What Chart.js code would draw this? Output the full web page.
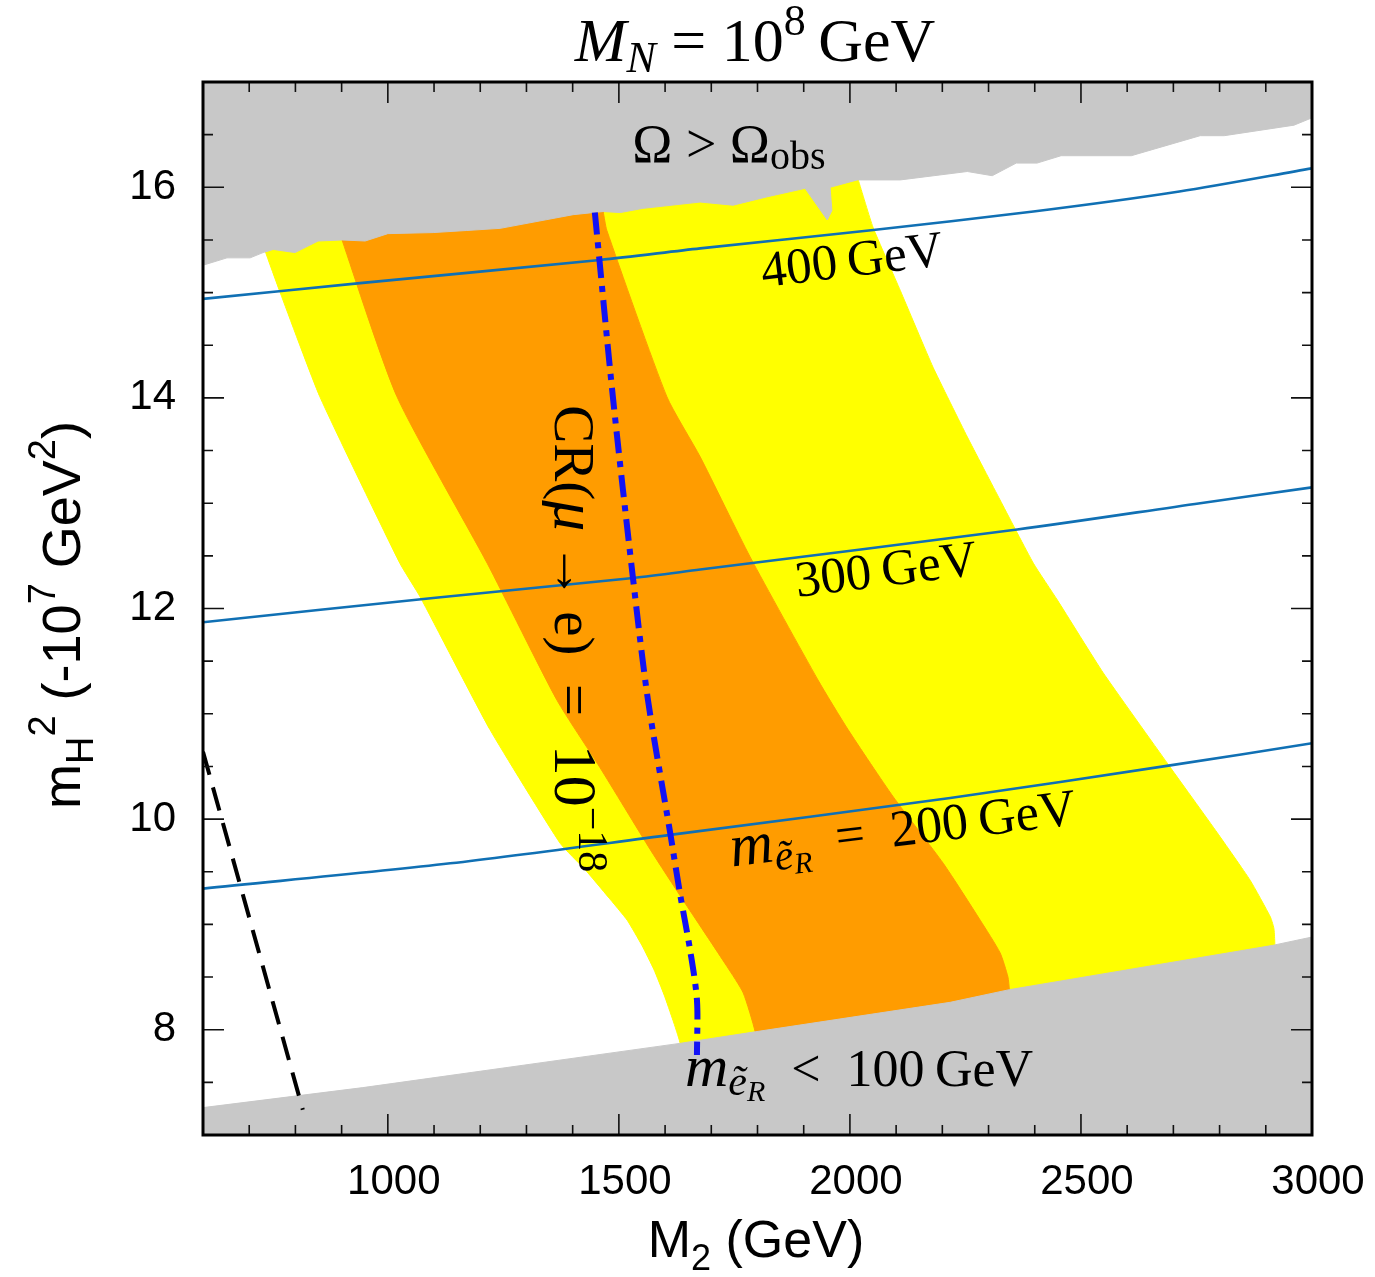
<!DOCTYPE html>
<html>
<head>
<meta charset="utf-8">
<script src="https://cdn.jsdelivr.net/npm/chart.js@4/dist/chart.umd.min.js"></script>
<style>
  html, body { margin: 0; padding: 0; background: #fff; }
  #wrap { width: 1375px; height: 1277px; }
</style>
</head>
<body>
<div id="wrap"><canvas id="chart_mh"></canvas></div>
<script>
// axis ranges (GeV, -10^7 GeV^2)
var m2_min = 600, m2_max = 3000;
var mh_min = 7, mh_max = 17;

// Omega > Omega_obs, lower edge of the excluded region
var omega_m2 = [600, 652, 702, 730, 752, 799, 849, 901, 951, 1000, 1098, 1171, 1243, 1401, 1466, 1503, 1552, 1676, 1747, 1821, 1903, 1951, 1961, 1957, 2016, 2109, 2254, 2308, 2360, 2405, 2457, 2609, 2758, 2810, 2961, 3000];
var omega_mh = [15.26, 15.33, 15.33, 15.38, 15.41, 15.38, 15.49, 15.50, 15.49, 15.56, 15.57, 15.59, 15.61, 15.74, 15.77, 15.76, 15.80, 15.86, 15.83, 15.91, 15.99, 15.69, 15.78, 16.00, 16.07, 16.07, 16.15, 16.11, 16.23, 16.23, 16.30, 16.30, 16.49, 16.49, 16.59, 16.66];

// m_eR < 100 GeV, upper edge
var light_m2 = [600, 946, 1632, 1795, 2217, 2345, 2914, 3000];
var light_mh = [7.26, 7.45, 7.87, 7.98, 8.26, 8.38, 8.80, 8.88];

// yellow band (left edge top->bottom, right edge bottom->top)
var yellow_left_m2 = [721, 734, 767, 853, 1026, 1070, 1221, 1373, 1427, 1477, 1518, 1550, 1576, 1598, 1617, 1632, 1637];
var yellow_left_mh = [15.58, 15.40, 15.00, 14.01, 12.43, 12.11, 10.85, 9.77, 9.52, 9.26, 9.04, 8.80, 8.57, 8.33, 8.09, 7.88, 7.62];
var yellow_right_m2 = [2914, 2918, 2910, 2866, 2795, 2687, 2548, 2449, 2397, 2325, 2254, 2180, 2109, 2050, 2018, 2007];
var yellow_right_mh = [8.66, 8.95, 9.07, 9.42, 9.87, 10.53, 11.39, 12.08, 12.43, 13.03, 13.63, 14.29, 15.02, 15.62, 16.07, 16.21];

// orange band
var orange_left_m2 = [892, 901, 1020, 1215, 1366, 1459, 1568, 1639, 1734, 1769, 1795, 1801];
var orange_left_mh = [15.67, 15.50, 14.01, 12.43, 11.13, 10.49, 9.71, 9.23, 8.60, 8.35, 7.98, 7.76];
var orange_right_m2 = [2347, 2345, 2342, 2325, 2282, 2202, 2094, 1996, 1931, 1784, 1676, 1604, 1474, 1466];
var orange_right_mh = [8.19, 8.38, 8.50, 8.73, 9.04, 9.58, 10.21, 10.85, 11.32, 12.49, 13.44, 14.01, 15.59, 15.77];

// selectron mass contours
var me400_m2 = [600, 940, 1459, 1676, 2041, 2397, 2713, 3000];
var me400_mh = [14.94, 15.09, 15.31, 15.42, 15.59, 15.77, 15.96, 16.18];
var me300_m2 = [600, 1098, 1531, 1676, 2362, 2758, 3000];
var me300_mh = [11.87, 12.10, 12.29, 12.37, 12.75, 13.00, 13.15];
var me200_m2 = [600, 1135, 1611, 2217, 2693, 3000];
var me200_mh = [9.34, 9.58, 9.85, 10.20, 10.51, 10.72];

// CR(mu -> e) = 1e-18
var cr_m2 = [1448, 1487, 1531, 1563, 1611, 1632, 1654, 1669, 1669];
var cr_mh = [15.76, 14.01, 12.27, 11.13, 9.87, 9.30, 8.76, 8.28, 7.76];

// dashed black line
var dash_m2 = [600, 816];
var dash_mh = [10.64, 7.24];

var serif = '"Liberation Serif", "Times New Roman", serif';
var sans = '"Liberation Sans", Arial, sans-serif';

function pts(xs, ys) {
  return xs.map(function(x, i) { return {x: x, y: ys[i]}; });
}

var omega_poly = pts(omega_m2, omega_mh).concat([{x: m2_max, y: mh_max}, {x: m2_min, y: mh_max}]);
var light_poly = pts(light_m2, light_mh).concat([{x: m2_max, y: mh_min}, {x: m2_min, y: mh_min}]);
var yellow_poly = pts(yellow_left_m2, yellow_left_mh).concat(pts(yellow_right_m2, yellow_right_mh));
var orange_poly = pts(orange_left_m2, orange_left_mh).concat(pts(orange_right_m2, orange_right_mh));

function area(poly, color, order, tension) {
  return {
    data: poly, showLine: true, fill: 'shape', tension: tension,
    backgroundColor: color, borderColor: color, borderWidth: 1,
    pointRadius: 0, order: order
  };
}

function curve(data, color, width, dash, order, tension) {
  return {
    data: data, showLine: true, fill: false, tension: tension,
    borderColor: color, borderWidth: width, borderDash: dash,
    borderCapStyle: 'butt', pointRadius: 0, order: order
  };
}

// text placed in data coordinates: [text, italic, size, dy]
var plot_labels = [
  {m2: 1529, mh: 16.24, rot: 0, runs: [['\u03A9 > \u03A9', false, 54, 0], ['obs', false, 40, 7]]},
  {m2: 1812, mh: 15.05, rot: -7, runs: [['400\u2009GeV', false, 51, 0]]},
  {m2: 1886, mh: 12.11, rot: -7, runs: [['300\u2009GeV', false, 51, 0]]},
  {m2: 1745, mh: 9.55, rot: -7, runs: [['m', true, 60, 0], ['\u1EBD', true, 42, 9], ['R', true, 30, 15], ['\u2002=\u2002200\u2009GeV', false, 52, 0]]},
  {m2: 1643, mh: 7.47, rot: 0, runs: [['m', true, 60, 0], ['\u1EBD', true, 42, 9], ['R', true, 30, 15], ['\u2002<\u2002100\u2009GeV', false, 52, 0]]},
  {m2: 1362, mh: 13.93, rot: 90, runs: [['CR(', false, 57, 0], ['\u03BC', true, 62, 0], ['\u2009\u2192\u2009', false, 57, 0], ['e)\u2002=\u2002', false, 57, 0], ['10', false, 62, 0], ['\u221218', false, 42, -24]]}
];

function runsWidth(ctx, runs, fam) {
  var w = 0;
  runs.forEach(function(r) {
    ctx.font = (r[1] ? 'italic ' : '') + r[2] + 'px ' + fam;
    w += ctx.measureText(r[0]).width;
  });
  return w;
}

function drawRuns(ctx, runs, x, y, fam, center) {
  var cx = center ? x - runsWidth(ctx, runs, fam) / 2 : x;
  runs.forEach(function(r) {
    ctx.font = (r[1] ? 'italic ' : '') + r[2] + 'px ' + fam;
    ctx.fillText(r[0], cx, y + r[3]);
    cx += ctx.measureText(r[0]).width;
  });
}

var overlay = {
  id: 'overlay',
  afterDraw: function(chart) {
    var ctx = chart.ctx;
    var a = chart.chartArea;
    var xs = chart.scales.x, ys = chart.scales.y;
    ctx.save();
    ctx.fillStyle = '#000';
    ctx.textBaseline = 'alphabetic';
    ctx.textAlign = 'left';

    plot_labels.forEach(function(l) {
      ctx.save();
      ctx.translate(xs.getPixelForValue(l.m2), ys.getPixelForValue(l.mh));
      ctx.rotate(l.rot * Math.PI / 180);
      drawRuns(ctx, l.runs, 0, 0, serif, false);
      ctx.restore();
    });

    // inward ticks on all four sides
    ctx.strokeStyle = '#111';
    ctx.lineWidth = 1.6;
    ctx.beginPath();
    xs.ticks.forEach(function(t) {
      if (t.value <= m2_min || t.value >= m2_max) return;
      var p = xs.getPixelForValue(t.value);
      var len = t.value % 500 === 0 ? 21 : 10;
      ctx.moveTo(p, a.bottom); ctx.lineTo(p, a.bottom - len);
      ctx.moveTo(p, a.top); ctx.lineTo(p, a.top + len);
    });
    ys.ticks.forEach(function(t) {
      if (t.value <= mh_min || t.value >= mh_max) return;
      var p = ys.getPixelForValue(t.value);
      var len = t.value % 2 === 0 ? 21 : 10;
      ctx.moveTo(a.left, p); ctx.lineTo(a.left + len, p);
      ctx.moveTo(a.right, p); ctx.lineTo(a.right - len, p);
    });
    ctx.stroke();

    ctx.lineWidth = 3;
    ctx.strokeStyle = '#000';
    ctx.strokeRect(a.left, a.top, a.right - a.left, a.bottom - a.top);

    // title
    drawRuns(ctx, [['M', true, 62, 0], ['N', true, 44, 11], [' = 10', false, 62, 0], ['8', false, 44, -26], ['\u2009GeV', false, 62, 0]], 755, 61, serif, true);

    // x title
    drawRuns(ctx, [['M', false, 52, 0], ['2', false, 36, 13], [' (GeV)', false, 52, 0]], 756, 1257, sans, true);

    // y title
    ctx.save();
    ctx.translate(80, 615);
    ctx.rotate(-Math.PI / 2);
    drawRuns(ctx, [['m', false, 54, 0], ['H', false, 38, 13], ['2', false, 38, -25], [' (-10', false, 54, 0], ['7', false, 38, -25], [' GeV', false, 54, 0], ['2', false, 38, -25], [')', false, 54, 0]], 0, 0, sans, true);
    ctx.restore();

    ctx.restore();
  }
};

var config_mh = {
  type: 'scatter',
  data: {
    datasets: [
      area(yellow_poly, '#ffff00', 9, 0.15),
      area(orange_poly, '#ff9c00', 8, 0.2),
      area(omega_poly, '#c8c8c8', 7, 0),
      area(light_poly, '#c8c8c8', 6, 0),
      curve(pts(me400_m2, me400_mh), '#1070b4', 2.6, [], 4, 0.3),
      curve(pts(me300_m2, me300_mh), '#1070b4', 2.6, [], 4, 0.3),
      curve(pts(me200_m2, me200_mh), '#1070b4', 2.6, [], 4, 0.3),
      curve(pts(cr_m2, cr_mh), '#1212f5', 6, [22, 8, 6, 8], 2, 0.3),
      curve(pts(dash_m2, dash_mh), '#000000', 4, [24, 13], 1, 0)
    ]
  },
  options: {
    responsive: true,
    maintainAspectRatio: false,
    animation: false,
    layout: { padding: { top: 82, right: 63, bottom: 0, left: 0 } },
    scales: {
      x: {
        type: 'linear',
        min: m2_min,
        max: m2_max,
        grid: { display: false, drawTicks: false },
        border: { display: false },
        afterFit: function(s) { s.height = 142; s.paddingLeft = 0; s.paddingRight = 0; },
        ticks: {
          stepSize: 100,
          autoSkip: false,
          maxRotation: 0,
          padding: 22,
          labelOffset: 6,
          color: '#000',
          font: { family: sans, size: 42 },
          callback: function(v) { return v % 500 === 0 ? String(v) : ''; }
        }
      },
      y: {
        type: 'linear',
        min: mh_min,
        max: mh_max,
        grid: { display: false, drawTicks: false },
        border: { display: false },
        afterFit: function(s) { s.width = 203; s.paddingTop = 0; s.paddingBottom = 0; },
        ticks: {
          stepSize: 0.5,
          autoSkip: false,
          padding: 27,
          color: '#000',
          font: { family: sans, size: 42 },
          callback: function(v) { return v % 2 === 0 ? String(v) : ''; }
        }
      }
    },
    plugins: {
      legend: { display: false },
      tooltip: { enabled: false }
    }
  },
  plugins: [overlay]
};

var chart_mh = new Chart(document.getElementById('chart_mh'), config_mh);
</script>
</body>
</html>
